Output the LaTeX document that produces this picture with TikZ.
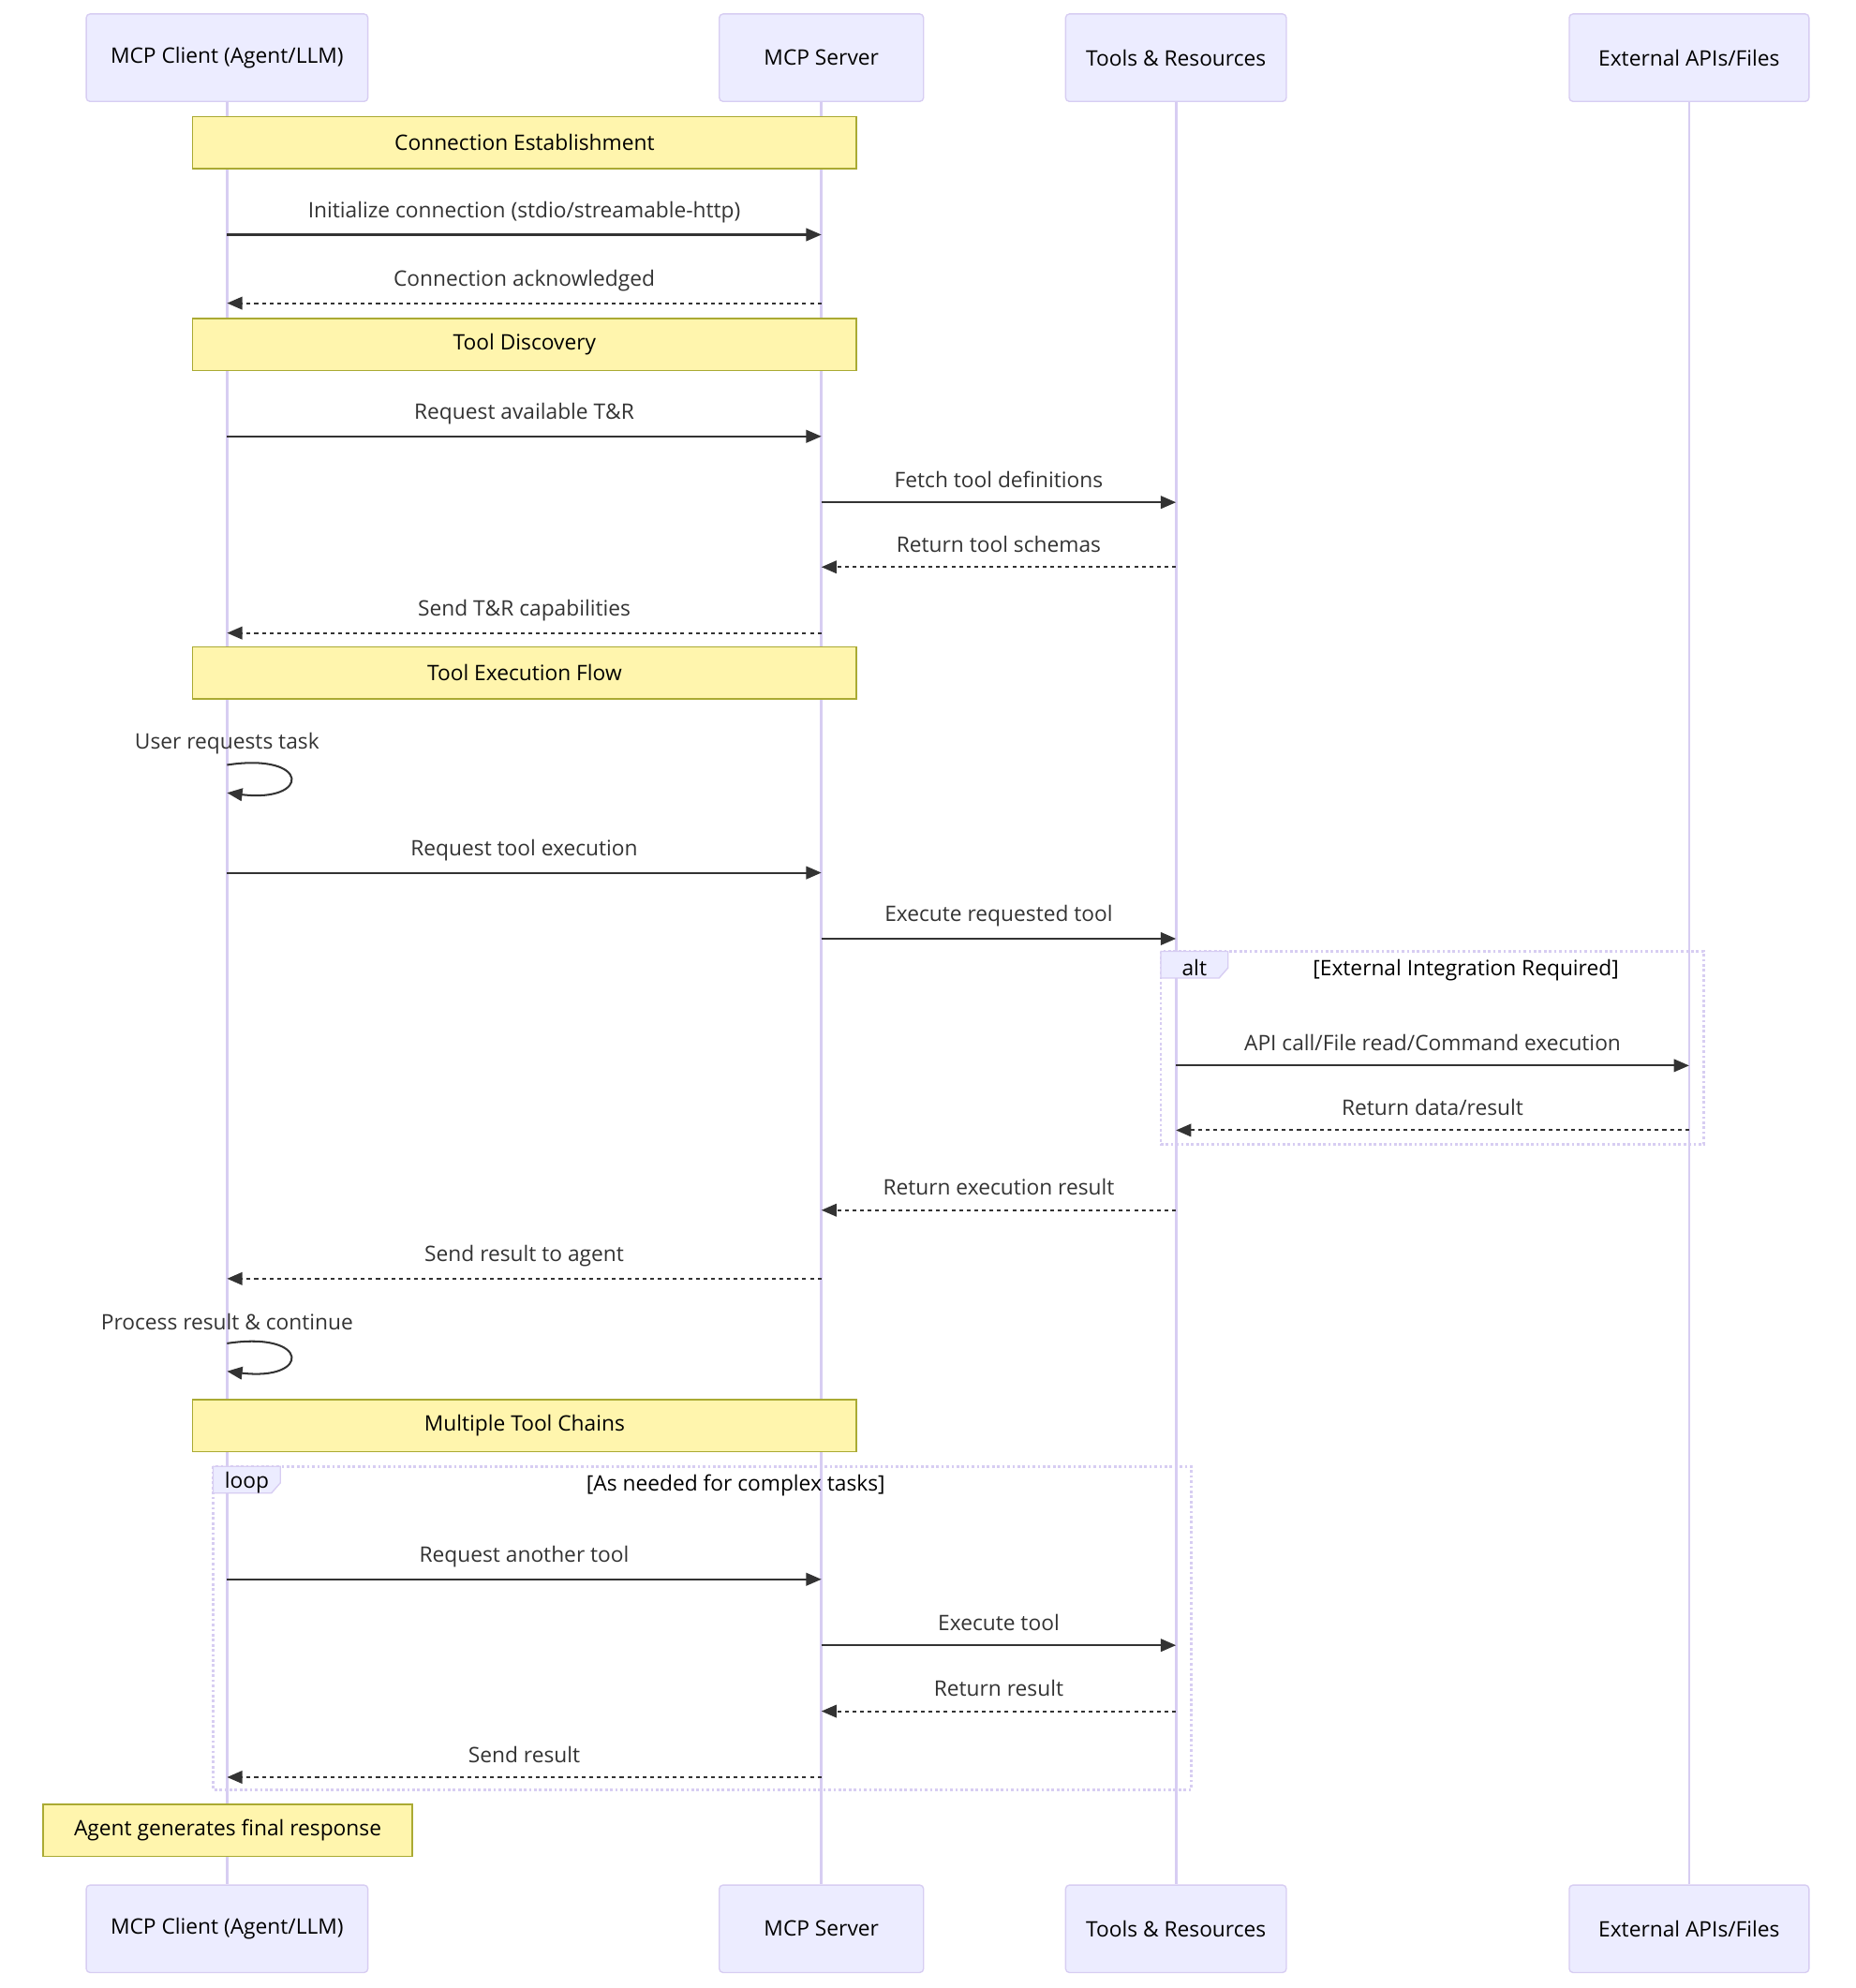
\documentclass[tikz,border=0pt]{standalone}
\usepackage{fontspec}
\setmainfont{Open Sans}
\usetikzlibrary{arrows.meta}
\definecolor{actorfill}{HTML}{ECECFF}
\definecolor{actorline}{HTML}{D7CDF2}
\definecolor{notefill}{HTML}{FFF5AD}
\definecolor{noteline}{HTML}{AAAA33}
\definecolor{signal}{HTML}{333333}
\tikzset{
	actor/.style={draw=actorline, fill=actorfill, line width=1pt, rounded corners=3pt, minimum width=#1, minimum height=69pt, inner sep=0pt},
	note/.style={draw=noteline, fill=notefill, line width=1pt, minimum width=#1, minimum height=41pt, inner sep=0pt},
	lifeline/.style={draw=actorline, line width=2pt},
	msg/.style={draw=signal, line width=1.5pt, -{Triangle[length=12pt,width=10pt]}},
	reply/.style={msg, dash pattern=on 3pt off 3pt},
	msglabel/.style={text=signal, yshift=18pt, inner sep=0pt},
	frame/.style={draw=actorline, line width=2pt, dash pattern=on 2pt off 2pt},
	framelabel/.style={draw=actorline, fill=actorfill, line width=1pt}
}

\begin{document}
\begin{tikzpicture}[x=1pt, y=-1pt, font=\fontsize{16.8}{20}\selectfont]
	\useasboundingbox (0,0) rectangle (1463,1567.2);
	%Teilnehmer
	\node[actor=222pt] (cT) at (179,45.5) {MCP Client (Agent/LLM)};
	\node[actor=161pt] (sT) at (647.5,45.5) {MCP Server};
	\node[actor=174pt] (tT) at (927,45.5) {Tools \& Resources};
	\node[actor=189pt] (eT) at (1331.5,45.5) {External APIs/Files};
	\node[actor=222pt] (cB) at (179,1520.5) {MCP Client (Agent/LLM)};
	\node[actor=161pt] (sB) at (647.5,1520.5) {MCP Server};
	\node[actor=174pt] (tB) at (927,1520.5) {Tools \& Resources};
	\node[actor=189pt] (eB) at (1331.5,1520.5) {External APIs/Files};
	%Lebenslinien
	\draw[lifeline] (cT.south) -- (cB.north);
	\draw[lifeline] (sT.south) -- (sB.north);
	\draw[lifeline] (tT.south) -- (tB.north);
	\draw[lifeline] (eT.south) -- (eB.north);
	%Verbindung
	\node[note=523pt] (n1) at (413.5,112.5) {Connection Establishment};
	\draw[msg] (cT |- 0,185) -- node[msglabel] (m1) {Initialize connection (stdio/streamable-http)} (sT |- 0,185);
	\draw[reply] (sT |- 0,239) -- node[msglabel] (m2) {Connection acknowledged} (cT |- 0,239);
	%Discovery
	\node[note=523pt] (n2) at (413.5,271.5) {Tool Discovery};
	\draw[msg] (cT |- 0,344) -- node[msglabel] (m3) {Request available T\&R} (sT |- 0,344);
	\draw[msg] (sT |- 0,396) -- node[msglabel] (m4) {Fetch tool definitions} (tT |- 0,396);
	\draw[reply] (tT |- 0,447) -- node[msglabel] (m5) {Return tool schemas} (sT |- 0,447);
	\draw[reply] (sT |- 0,499) -- node[msglabel] (m6) {Send T\&R capabilities} (cT |- 0,499);
	%Ausfuehrung
	\node[note=523pt] (n3) at (413.5,530.5) {Tool Execution Flow};
	\node[text=signal, inner sep=0pt] (m7) at (cT |- 0,586) {User requests task};
	\draw[msg] (cT |- 0,603) .. controls (245,593) and (245,633) .. (cT |- 0,625);
	\draw[msg] (cT |- 0,688) -- node[msglabel] (m8) {Request tool execution} (sT |- 0,688);
	\draw[msg] (sT |- 0,740) -- node[msglabel] (m9) {Execute requested tool} (tT |- 0,740);
	%alt
	\draw[frame] (915,750) rectangle (1343,902);
	\draw[framelabel] (915,750) -- (968,750) -- (968,763) -- (961,771) -- (915,771) -- cycle;
	\node[inner sep=0pt] (a1) at (941.5,763) {alt};
	\node[inner sep=0pt] (a2) at (1155.5,765) {[External Integration Required]};
	\draw[msg] (tT |- 0,840) -- node[msglabel] (m10) {API call/File read/Command execution} (eT |- 0,840);
	\draw[reply] (eT |- 0,891) -- node[msglabel] (m11) {Return data/result} (tT |- 0,891);
	\draw[reply] (tT |- 0,954) -- node[msglabel] (m12) {Return execution result} (sT |- 0,954);
	\draw[reply] (sT |- 0,1008) -- node[msglabel] (m13) {Send result to agent} (cT |- 0,1008);
	\node[text=signal, inner sep=0pt] (m14) at (cT |- 0,1042) {Process result \& continue};
	\draw[msg] (cT |- 0,1059) .. controls (245,1049) and (245,1089) .. (cT |- 0,1081);
	%Schleife
	\node[note=523pt] (n4) at (413.5,1124) {Multiple Tool Chains};
	\draw[frame] (168,1156) rectangle (939,1411);
	\draw[framelabel] (168,1156) -- (221,1156) -- (221,1169) -- (214,1177) -- (168,1177) -- cycle;
	\node[inner sep=0pt] (l1) at (194.5,1169) {loop};
	\node[inner sep=0pt] (l2) at (580,1171) {[As needed for complex tasks]};
	\draw[msg] (cT |- 0,1245) -- node[msglabel] (m15) {Request another tool} (sT |- 0,1245);
	\draw[msg] (sT |- 0,1297) -- node[msglabel] (m16) {Execute tool} (tT |- 0,1297);
	\draw[reply] (tT |- 0,1349) -- node[msglabel] (m17) {Return result} (sT |- 0,1349);
	\draw[reply] (sT |- 0,1401) -- node[msglabel] (m18) {Send result} (cT |- 0,1401);
	\node[note=291pt] (n5) at (179.5,1443) {Agent generates final response};
\end{tikzpicture}
\end{document}
